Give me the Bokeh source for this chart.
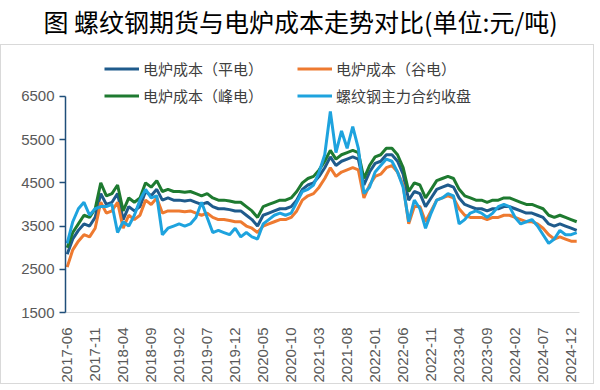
import numpy as np
import pandas as pd
from bokeh.plotting import figure
from bokeh.models import Range1d, FixedTicker, Legend, LegendItem, ColumnDataSource
from bokeh.layouts import column
from bokeh.embed import file_html
from bokeh.resources import INLINE

# ---------------- data ----------------
months = pd.date_range("2017-06-01", "2025-01-01", freq="MS").strftime("%Y-%m").tolist()

cost_flat = [2850, 3200, 3400, 3550, 3500, 3700, 4250, 4000, 4050, 4250,
             3650, 3950, 3850, 3950, 4300, 4200, 4350, 4100, 4150, 4100,
             4100, 4080, 4100, 4050, 4000, 4050, 3950, 3900, 3900, 3880,
             3850, 3850, 3750, 3650, 3500, 3750, 3800, 3850, 3900, 3900,
             3950, 4100, 4350, 4450, 4500, 4650, 4850, 5100, 4900, 5000,
             5050, 5100, 5050, 4450, 4750, 4950, 5000, 5150, 5150, 5000,
             4700, 4100, 4300, 4250, 3950, 4150, 4350, 4400, 4450, 4400,
             4150, 4000, 3950, 3900, 3900, 3850, 3900, 3900, 3950, 3950,
             3900, 3850, 3800, 3800, 3750, 3700, 3550, 3500, 3550, 3500,
             3450, 3400]

cost_valley = [2550, 2950, 3150, 3300, 3250, 3450, 4050, 3800, 3850, 4050,
               3450, 3750, 3650, 3750, 4100, 4000, 4150, 3800, 3850, 3850,
               3850, 3830, 3850, 3800, 3750, 3800, 3700, 3650, 3650, 3630,
               3600, 3600, 3500, 3450, 3350, 3500, 3550, 3600, 3650, 3650,
               3700, 3850, 4100, 4200, 4250, 4400, 4600, 4850, 4650, 4750,
               4800, 4850, 4800, 4150, 4450, 4650, 4700, 4850, 4900, 4750,
               4450, 3550, 3950, 3950, 3600, 3850, 4100, 4150, 4200, 4150,
               3900, 3750, 3700, 3700, 3700, 3650, 3700, 3700, 3750, 3750,
               3700, 3650, 3600, 3600, 3550, 3450, 3300, 3200, 3250, 3200,
               3150, 3150]

cost_peak = [3000, 3350, 3550, 3750, 3700, 3900, 4500, 4200, 4250, 4450,
             3850, 4150, 4050, 4150, 4500, 4400, 4550, 4300, 4350, 4300,
             4300, 4280, 4300, 4250, 4200, 4250, 4150, 4100, 4100, 4080,
             4050, 4050, 3950, 3850, 3700, 3950, 4000, 4050, 4100, 4100,
             4150, 4300, 4500, 4600, 4650, 4800, 5000, 5250, 5050, 5150,
             5200, 5250, 5200, 4600, 4900, 5100, 5150, 5300, 5300, 5150,
             4850, 4300, 4500, 4450, 4150, 4350, 4550, 4600, 4650, 4600,
             4350, 4200, 4150, 4100, 4100, 4050, 4100, 4100, 4150, 4150,
             4100, 4050, 4000, 4000, 3950, 3900, 3750, 3700, 3750, 3700,
             3650, 3600]

rebar_close = [3100, 3600, 3900, 4050, 3750, 3900, 3950, 3950, 4000, 3350,
               3600, 3500, 3750, 4100, 4350, 4150, 4200, 3300, 3450, 3500,
               3550, 3500, 3550, 3700, 4050, 3700, 3350, 3400, 3350, 3300,
               3450, 3250, 3350, 3250, 3200, 3550, 3650, 3750, 3800, 3750,
               3800, 4050, 4300, 4350, 4450, 4750, 5150, 6150, 5200, 5700,
               5300, 5800, 5300, 4250, 4400, 4750, 4900, 5050, 5000, 4750,
               4400, 3600, 4100, 3900, 3450, 3800, 4100, 4150, 4250, 4200,
               3550, 3650, 3800, 3850, 3800, 3700, 3800, 3950, 4000, 3950,
               3700, 3550, 3600, 3650, 3500, 3300, 3100, 3200, 3400, 3300,
               3300, 3350]

tick_labels = ["2017-06", "2017-11", "2018-04", "2018-09", "2019-02", "2019-07",
               "2019-12", "2020-05", "2020-10", "2021-03", "2021-08", "2022-01",
               "2022-06", "2022-11", "2023-04", "2023-09", "2024-02", "2024-07",
               "2024-12"]
y_ticks = [1500, 2500, 3500, 4500, 5500, 6500]

series_names = ["电炉成本（平电）", "电炉成本（谷电）", "电炉成本（峰电）", "螺纹钢主力合约收盘"]
title_text = "图 螺纹钢期货与电炉成本走势对比(单位:元/吨)"

# ---------------- style ----------------
C_FLAT = "#1f5b8c"
C_VALLEY = "#ee7a30"
C_PEAK = "#1e7a30"
C_REBAR = "#1ea3de"
AXIS_NAVY = "#1f4e79"
LABEL_GRAY = "#595959"
CJK = "Noto Sans CJK SC"

W = 594
BL, BR = 64, 16

x = list(range(len(months)))
src = ColumnDataSource(dict(x=x, flat=cost_flat, valley=cost_valley,
                            peak=cost_peak, rebar=rebar_close))

# title figure (only its title is visible)
TH = 44
tf = figure(width=W, height=TH, x_range=Range1d(0, 1), y_range=Range1d(0, 1),
            output_backend="svg", toolbar_location=None,
            x_axis_location=None, y_axis_location=None,
            min_border_left=BL, min_border_right=BR, min_border_top=1, min_border_bottom=0,
            outline_line_color=None, title=title_text)
tf.grid.visible = False
tf.title.align = "left"
tf.title.offset = -21
tf.title.standoff = 0
tf.title.text_font = CJK
tf.title.text_font_size = "25px"
tf.title.text_font_style = "normal"
tf.title.text_color = "#000000"

# main chart
p = figure(width=W, height=340, x_range=Range1d(-0.3, 91.5), y_range=Range1d(1500, 7400),
           output_backend="svg", toolbar_location=None,
           min_border_left=BL, min_border_right=BR, min_border_top=12, min_border_bottom=73,
           outline_line_color=None)
p.styles = {"border": "1px solid #d9d9d9"}
p.grid.visible = False

r_flat = p.line("x", "flat", source=src, line_color=C_FLAT, line_width=3)
r_valley = p.line("x", "valley", source=src, line_color=C_VALLEY, line_width=3)
r_peak = p.line("x", "peak", source=src, line_color=C_PEAK, line_width=3)
r_rebar = p.line("x", "rebar", source=src, line_color=C_REBAR, line_width=3)

legend = Legend(items=[LegendItem(label=series_names[0], renderers=[r_flat]),
                       LegendItem(label=series_names[1], renderers=[r_valley]),
                       LegendItem(label=series_names[2], renderers=[r_peak]),
                       LegendItem(label=series_names[3], renderers=[r_rebar])],
                location=(39, 205), orientation="horizontal", ncols=2,
                glyph_width=35, glyph_height=23, label_height=23, label_width=150,
                label_standoff=4, spacing=4, padding=0, margin=0,
                label_text_font=CJK, label_text_font_size="15px",
                label_text_color="#404040",
                border_line_color=None, background_fill_alpha=0)
p.add_layout(legend)

# x axis
tick_pos = [months.index(t) for t in tick_labels]
p.xaxis.ticker = FixedTicker(ticks=tick_pos)
p.xaxis.major_label_overrides = {i: t for i, t in zip(tick_pos, tick_labels)}
p.xaxis.major_label_orientation = np.pi / 2
p.xaxis.axis_line_color = "#d9d9d9"
p.xaxis.major_tick_line_color = None
p.xaxis.minor_tick_line_color = None
p.xaxis.major_label_standoff = 9
p.xaxis.major_label_text_font = "Liberation Sans"
p.xaxis.major_label_text_font_size = "15px"
p.xaxis.major_label_text_color = LABEL_GRAY

# y axis
p.yaxis.ticker = FixedTicker(ticks=y_ticks)
p.yaxis.bounds = (y_ticks[0], y_ticks[-1])
p.yaxis.axis_line_color = AXIS_NAVY
p.yaxis.axis_line_width = 1.5
p.yaxis.major_tick_line_color = AXIS_NAVY
p.yaxis.major_tick_line_width = 1.5
p.yaxis.major_tick_out = 6
p.yaxis.major_tick_in = 0
p.yaxis.minor_tick_line_color = None
p.yaxis.major_label_standoff = 5
p.yaxis.major_label_text_font = "Liberation Sans"
p.yaxis.major_label_text_font_size = "15px"
p.yaxis.major_label_text_color = LABEL_GRAY

layout = column(tf, p, spacing=0)
open("out.html", "w").write(file_html(layout, INLINE))
